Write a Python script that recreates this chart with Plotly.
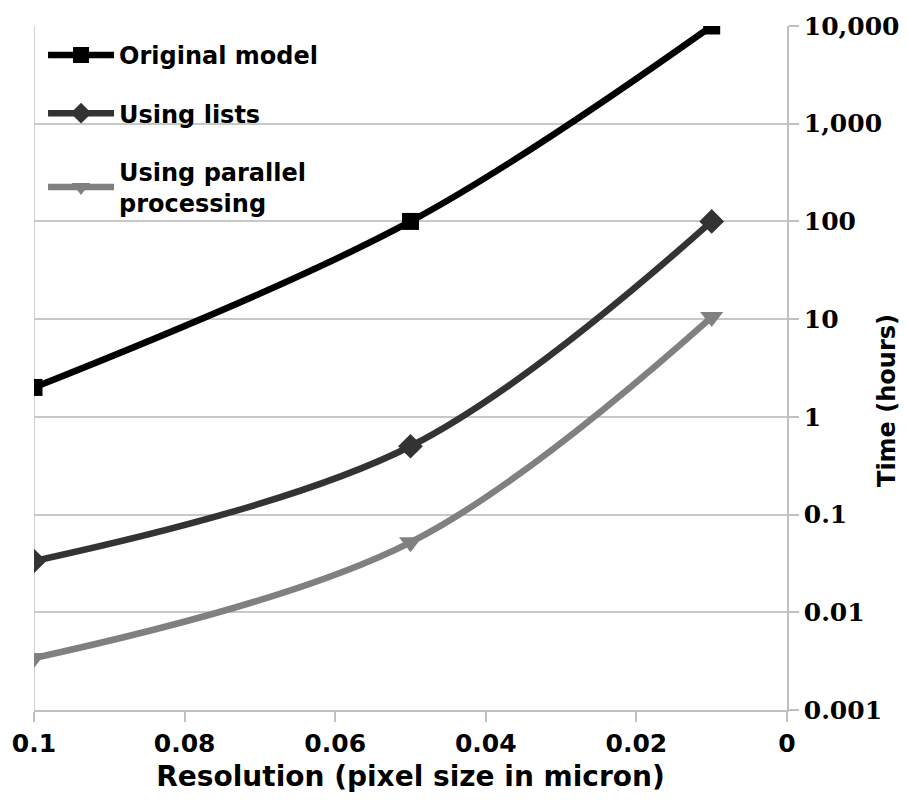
import plotly.graph_objects as go

resolution = [0.1, 0.05, 0.01]
original_model = [2, 100, 10000]
using_lists = [0.0335, 0.5, 100]
using_parallel = [0.0034, 0.052, 10.5]

y_tickvals = [0.001, 0.01, 0.1, 1, 10, 100, 1000, 10000]
y_ticktext = ["0.001", "0.01", "0.1", "1", "10", "100", "1,000", "10,000"]
x_tickvals = [0.1, 0.08, 0.06, 0.04, 0.02, 0]
x_ticktext = ["0.1", "0.08", "0.06", "0.04", "0.02", "0"]

SANS = "DejaVu Sans"
SERIF = "DejaVu Serif"

fig = go.Figure()
series = [
    ("Original model", original_model, "#000000", "square", 17),
    ("Using lists", using_lists, "#333333", "diamond", 19),
    ("Using parallel<br>processing", using_parallel, "#808080", "triangle-down", 20),
]
for i, (name, vals, col, sym, sz) in enumerate(series):
    fig.add_trace(go.Scatter(
        x=resolution, y=vals, name=name, mode="lines+markers", legendgroup=f"g{i}",
        line=dict(color=col, width=6.5, shape="spline", smoothing=1),
        marker=dict(symbol=sym, size=sz, color=col),
    ))

fig.add_shape(type="line", xref="x", yref="paper", x0=0.1, x1=0.1, y0=0, y1=1,
              line=dict(color="#c0c0c0", width=1.5), layer="below")

fig.add_annotation(text="Time (hours)", textangle=-90, xref="paper", yref="paper",
                   x=1.133, y=0.452, xanchor="center", yanchor="middle", showarrow=False,
                   font=dict(family=SANS, size=24, color="black", weight="bold"))

fig.update_layout(
    width=908, height=805,
    margin=dict(l=34, r=121, t=26, b=95),
    paper_bgcolor="white", plot_bgcolor="white",
    showlegend=True,
    legend=dict(x=0.012, y=0.99, xanchor="left", yanchor="top",
                bgcolor="rgba(0,0,0,0)", itemwidth=66, tracegroupgap=24,
                font=dict(family=SANS, size=24, color="black", weight="bold")),
    xaxis=dict(
        range=[0.1, 0], tickvals=x_tickvals, ticktext=x_ticktext, automargin=False,
        showgrid=False, zeroline=False, showline=True, linecolor="#c0c0c0", linewidth=1.5,
        ticks="outside", ticklen=10, tickcolor="#c0c0c0", tickwidth=1.5,
        tickfont=dict(family=SANS, size=25, color="black", weight="bold"),
        title=dict(text="Resolution (pixel size in micron)", standoff=10,
                   font=dict(family=SANS, size=28, color="black", weight="bold")),
    ),
    yaxis=dict(
        type="log", side="right", range=[-3, 4], tickvals=y_tickvals, ticktext=y_ticktext,
        automargin=False,
        showgrid=True, gridcolor="#c8c8c8", gridwidth=1.5, zeroline=False,
        showline=True, linecolor="#c0c0c0", linewidth=1.5,
        ticks="outside", ticklen=10, tickcolor="#c0c0c0", tickwidth=1.5,
        tickfont=dict(family=SERIF, size=25, color="black", weight="bold"),
    ),
)

fig.write_html("out.html")
